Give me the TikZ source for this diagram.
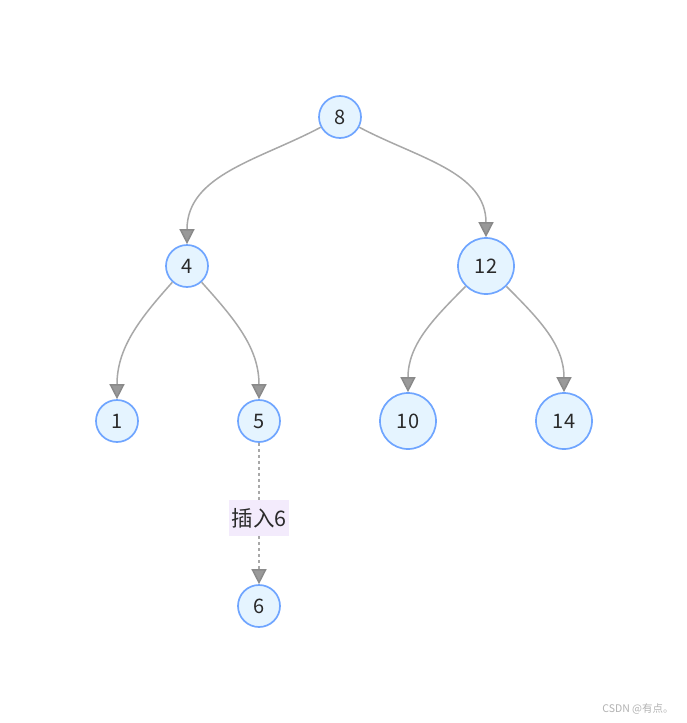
\documentclass[tikz,border=0pt]{standalone}
\usepackage{fontspec}
\setmainfont{Noto Sans CJK SC}
\usetikzlibrary{arrows.meta}
\definecolor{nodefill}{HTML}{E5F4FF}
\definecolor{nodedraw}{HTML}{6FA5FF}
\definecolor{txt}{HTML}{2A2A2A}
\definecolor{edge}{HTML}{A8A8A8}
\definecolor{tipfill}{HTML}{999999}
\definecolor{tipdraw}{HTML}{8A8A8A}
\definecolor{lblfill}{HTML}{F3EBFC}
\tikzset{
  x=1pt, y=-1pt,
  tnode/.style={circle, draw=nodedraw, fill=nodefill, line width=1.7pt, text=txt,
    font=\fontsize{20}{22}\selectfont, inner sep=0pt},
  small/.style={tnode, minimum size=42pt},
  big/.style={tnode, minimum size=56pt},
  conn/.style={draw=edge, line width=1.5pt,
    -{Triangle[width=15pt,length=15pt,fill=tipfill,color=tipdraw]}},
  dotconn/.style={conn, dash pattern=on 3pt off 3pt},
  lbl/.style={fill=lblfill, text=txt, font=\fontsize{21.5}{24}\selectfont,
    inner xsep=1pt, inner ysep=2pt, minimum height=36pt, minimum width=60pt},
}
\begin{document}
\begin{tikzpicture}
\useasboundingbox[fill=white] (0,0) rectangle (687,723);
\node[small] (n8) at (340,117) {8};
\node[small] (n4) at (187,266) {4};
\node[big]   (n12) at (486,266) {12};
\node[small] (n1) at (117,421) {1};
\node[small] (n5) at (259,421) {5};
\node[big]   (n10) at (408,421) {10};
\node[big]   (n14) at (564,421) {14};
\node[small] (n6) at (259,606) {6};
\node[lbl] (l6) at (259,518) {插入6};
\node[text=gray!60, font=\fontsize{10.5}{12}\selectfont] (wm) at (638,709) {CSDN @有点。};

\draw[conn] (n8) to[out=208, in=90] (n4);
\draw[conn] (n8) to[out=-28, in=90] (n12);
\draw[conn] (n4) to[out=228, in=90] (n1);
\draw[conn] (n4) to[out=-48, in=90] (n5);
\draw[conn] (n12) to[out=225, in=90] (n10);
\draw[conn] (n12) to[out=-45, in=90] (n14);
\draw[draw=edge, line width=1.5pt, dash pattern=on 3pt off 3pt] (n5) -- (l6);
\draw[dotconn] (l6) -- (n6);
\end{tikzpicture}
\end{document}
